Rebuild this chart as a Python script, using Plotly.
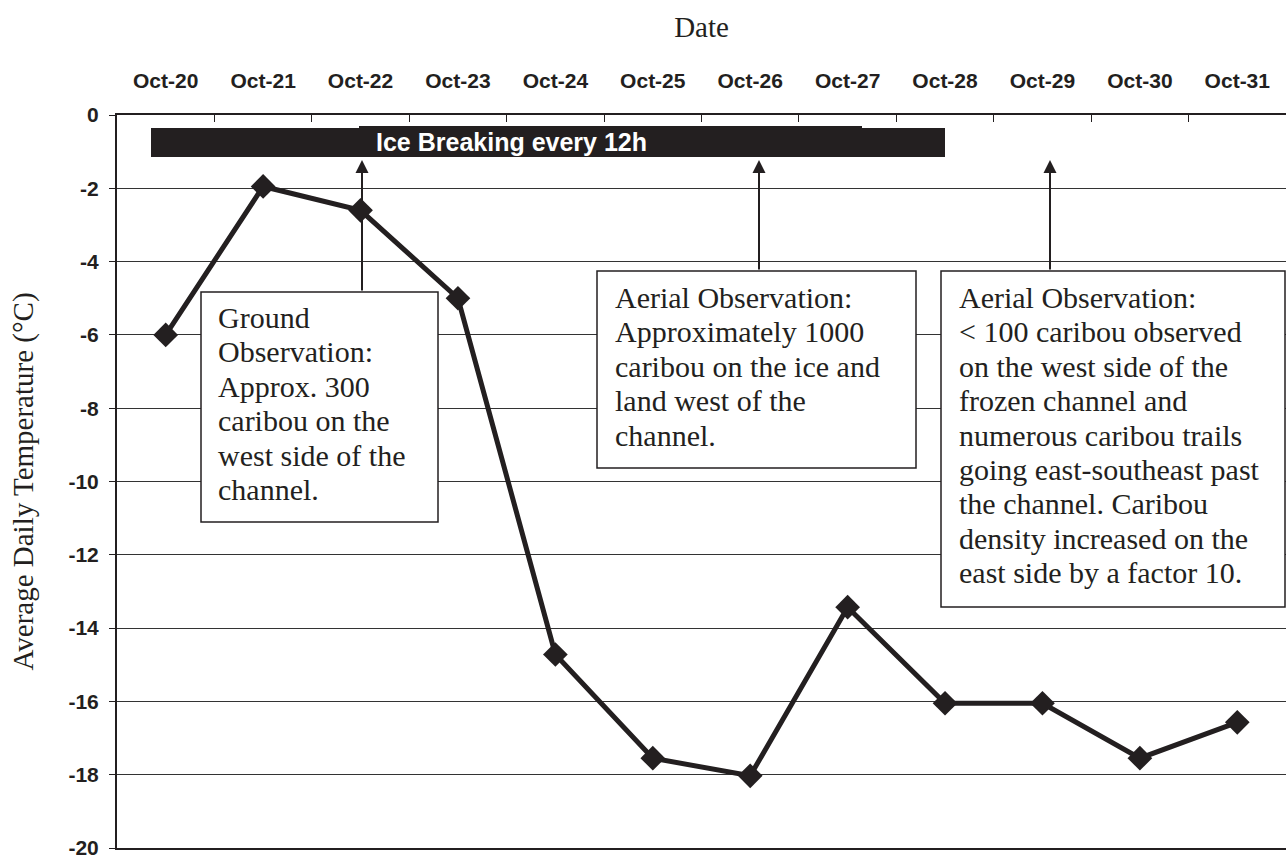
import plotly.graph_objects as go

dates = ["Oct-20", "Oct-21", "Oct-22", "Oct-23", "Oct-24", "Oct-25",
         "Oct-26", "Oct-27", "Oct-28", "Oct-29", "Oct-30", "Oct-31"]
temps = [-6.0, -1.95, -2.6, -5.0, -14.72, -17.55, -18.03, -13.43,
         -16.05, -16.05, -17.55, -16.57]
y_ticks = [0, -2, -4, -6, -8, -10, -12, -14, -16, -18, -20]
y_tick_labels = ["0", "-2", "-4", "-6", "-8", "-10", "-12", "-14", "-16",
                 "-18", "-20"]

ice_label = "Ice Breaking every 12h"
box_ground = ["Ground", "Observation:", "Approx. 300", "caribou on the",
              "west side of the", "channel."]
box_aerial1 = ["Aerial Observation:", "Approximately 1000",
               "caribou on the ice and", "land west of the", "channel."]
box_aerial2 = ["Aerial Observation:", "< 100 caribou observed",
               "on the west side of the", "frozen channel and",
               "numerous caribou trails", "going east-southeast past",
               "the channel. Caribou", "density increased on the",
               "east side by a factor 10."]

W, H = 1286, 858
L, R, T, B = 117, 0, 115, 10
PW, PH = W - L - R, H - T - B
INK = "#231f20"
SERIF = "Times New Roman, Liberation Serif, serif"
SANS = "Arial, Liberation Sans, sans-serif"


def px(x):
    return (x - L) / PW


def py(y):
    return 1 - (y - T) / PH


fig = go.Figure()
fig.add_trace(go.Scatter(
    x=dates, y=temps, mode="lines+markers",
    line=dict(color=INK, width=5),
    marker=dict(symbol="diamond", size=19, color=INK),
    showlegend=False, cliponaxis=False))

shapes = []
annotations = []

# Ice breaking bar
shapes.append(dict(type="rect", xref="paper", yref="paper",
                   x0=px(151), x1=px(945), y0=py(157), y1=py(128),
                   fillcolor=INK, line=dict(width=0), layer="above"))
shapes.append(dict(type="rect", xref="paper", yref="paper",
                   x0=px(359), x1=px(862), y0=py(157), y1=py(126),
                   fillcolor=INK, line=dict(width=0), layer="above"))
annotations.append(dict(xref="paper", yref="paper", x=px(511), y=py(142),
                        text="<b>" + ice_label + "</b>", showarrow=False,
                        font=dict(family=SANS, size=25, color="white"),
                        xanchor="center", yanchor="middle"))

# Boxes
boxes = [
    (201, 438, 292, 522, 216, 317.5, box_ground),
    (597, 916, 271, 468, 613, 297.5, box_aerial1),
    (941, 1285, 271, 607, 957, 297.5, box_aerial2),
]
for x0, x1, y0, y1, tx, ty, lines in boxes:
    shapes.append(dict(type="rect", xref="paper", yref="paper",
                       x0=px(x0), x1=px(x1), y0=py(y1), y1=py(y0),
                       fillcolor="white", line=dict(color=INK, width=1.5),
                       layer="above"))
    for i, s in enumerate(lines):
        annotations.append(dict(xref="paper", yref="paper", x=px(tx),
                                y=py(ty + i * 34.4), text=s, showarrow=False,
                                xanchor="left", yanchor="middle",
                                font=dict(family=SERIF, size=30, color=INK)))

# Arrows
for ax_px, base in [(362, 292), (759, 271), (1050, 271)]:
    annotations.append(dict(xref="paper", yref="paper", x=px(ax_px),
                            y=py(160), ax=0, ay=base - 160, axref="pixel",
                            ayref="pixel", text="", showarrow=True,
                            arrowhead=2, arrowsize=1.3, arrowwidth=2,
                            arrowcolor=INK, standoff=0))

fig.update_layout(
    width=W, height=H,
    margin=dict(l=L, r=R, t=T, b=B, autoexpand=False),
    paper_bgcolor="white", plot_bgcolor="white",
    shapes=shapes, annotations=annotations,
    xaxis=dict(
        type="category", side="top", range=[-0.5, 11.5],
        showline=True, linecolor=INK, linewidth=2, mirror=True,
        ticks="inside", tickson="boundaries", ticklen=7, tickcolor=INK,
        tickwidth=1, showgrid=False, zeroline=False,
        ticklabelstandoff=17,
        tickfont=dict(family=SANS, size=21, color=INK, weight="bold"),
        title=dict(text="Date", font=dict(family=SERIF, size=29, color=INK),
                   standoff=22),
    ),
    yaxis=dict(
        range=[-20, 0], tickvals=y_ticks, ticktext=y_tick_labels,
        showline=True, linecolor=INK, linewidth=2,
        ticks="outside", ticklen=6, tickcolor=INK, tickwidth=1,
        ticklabelstandoff=6, ticklabeloverflow="allow",
        showgrid=True, gridcolor="#333333", gridwidth=1, zeroline=False,
        tickfont=dict(family=SANS, size=21, color=INK, weight="bold"),
        title=dict(text="Average Daily Temperature (°C)",
                   font=dict(family=SERIF, size=29, color=INK), standoff=26),
    ),
)

fig.write_html("out.html", config={"displayModeBar": False},
               post_script="document.body.style.margin='0px';")
